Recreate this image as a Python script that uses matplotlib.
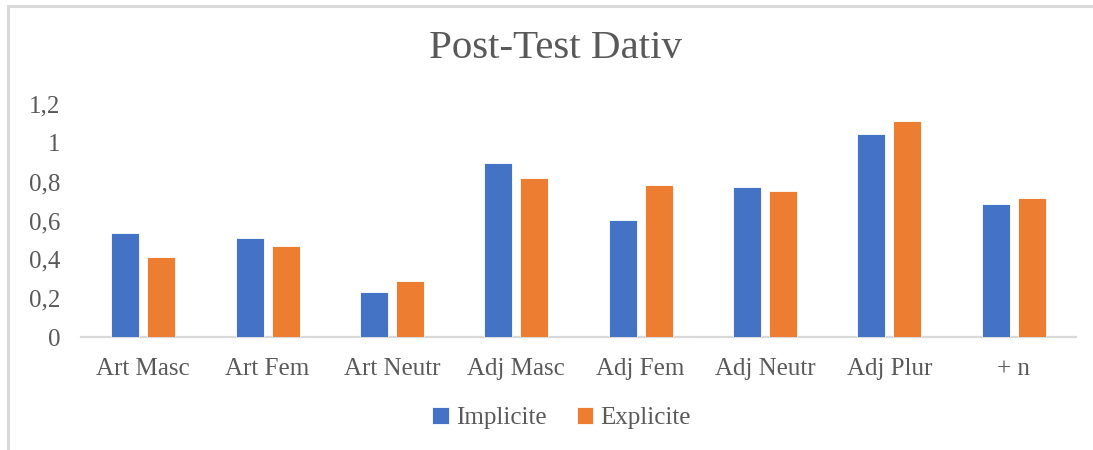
import matplotlib
matplotlib.use("Agg")
import matplotlib.pyplot as plt
from matplotlib.lines import Line2D
from matplotlib.ticker import FuncFormatter
import numpy as np

# ── Data ──
categories = ["Art Masc", "Art Fem", "Art Neutr", "Adj Masc",
              "Adj Fem", "Adj Neutr", "Adj Plur", "+ n"]
implicite = [0.535, 0.51, 0.232, 0.898, 0.603, 0.775, 1.046, 0.686]
explicite = [0.41, 0.47, 0.29, 0.818, 0.783, 0.752, 1.11, 0.718]
y_ticks = [0, 0.2, 0.4, 0.6, 0.8, 1.0, 1.2]

BLUE = "#4472c4"
ORANGE = "#ed7d31"
TEXT = "#595959"
LINE = "#d9d9d9"
FONT = "Liberation Serif"

W, H = 1093, 450
fig = plt.figure(figsize=(W / 100, H / 100), dpi=100)
fig.patch.set_facecolor("white")

# chart frame (left + top only, like the cropped Excel screenshot)
fig.add_artist(Line2D([8 / W, 8 / W], [0, 1 - 6 / H], color=LINE, lw=2.2,
                      transform=fig.transFigure))
fig.add_artist(Line2D([8 / W, 1], [1 - 6 / H, 1 - 6 / H], color=LINE, lw=2.2,
                      transform=fig.transFigure))

ax = fig.add_axes([81 / W, (H - 337) / H, (1076 - 81) / W, (337 - 104) / H])

x = np.arange(len(categories))
bw = 0.225
off = 0.145
ax.bar(x - off, implicite, width=bw, color=BLUE, edgecolor="white",
       linewidth=0.6, label="Implicite", zorder=3)
ax.bar(x + off, explicite, width=bw, color=ORANGE, edgecolor="white",
       linewidth=0.6, label="Explicite", zorder=3)

ax.set_xlim(-0.5, len(categories) - 0.5)
ax.set_ylim(0, 1.2)
ax.set_yticks(y_ticks)
ax.yaxis.set_major_formatter(FuncFormatter(
    lambda v, p: "0" if v == 0 else f"{v:g}".replace(".", ",")))
ax.set_xticks(x)
ax.set_xticklabels(categories)

for s in ["top", "right", "left"]:
    ax.spines[s].set_visible(False)
ax.spines["bottom"].set_color(LINE)
ax.spines["bottom"].set_linewidth(1.6)
ax.tick_params(axis="both", length=0, colors=TEXT, labelsize=18)
ax.tick_params(axis="y", pad=15)
ax.tick_params(axis="x", pad=15)
for lbl in ax.get_xticklabels() + ax.get_yticklabels():
    lbl.set_fontfamily(FONT)

fig.text(556 / W, 1 - 49 / H, "Post-Test Dativ", ha="center", va="center",
         fontsize=29.5, color=TEXT, fontfamily=FONT)

fig.legend(loc="center", bbox_to_anchor=(0.514, 1 - 418 / H), ncol=2,
           frameon=False, handlelength=0.65, handleheight=0.65,
           handletextpad=0.3, columnspacing=1.2,
           prop={"family": FONT, "size": 18}, labelcolor=TEXT)

fig.savefig("out.png", dpi=100, facecolor=fig.get_facecolor())
